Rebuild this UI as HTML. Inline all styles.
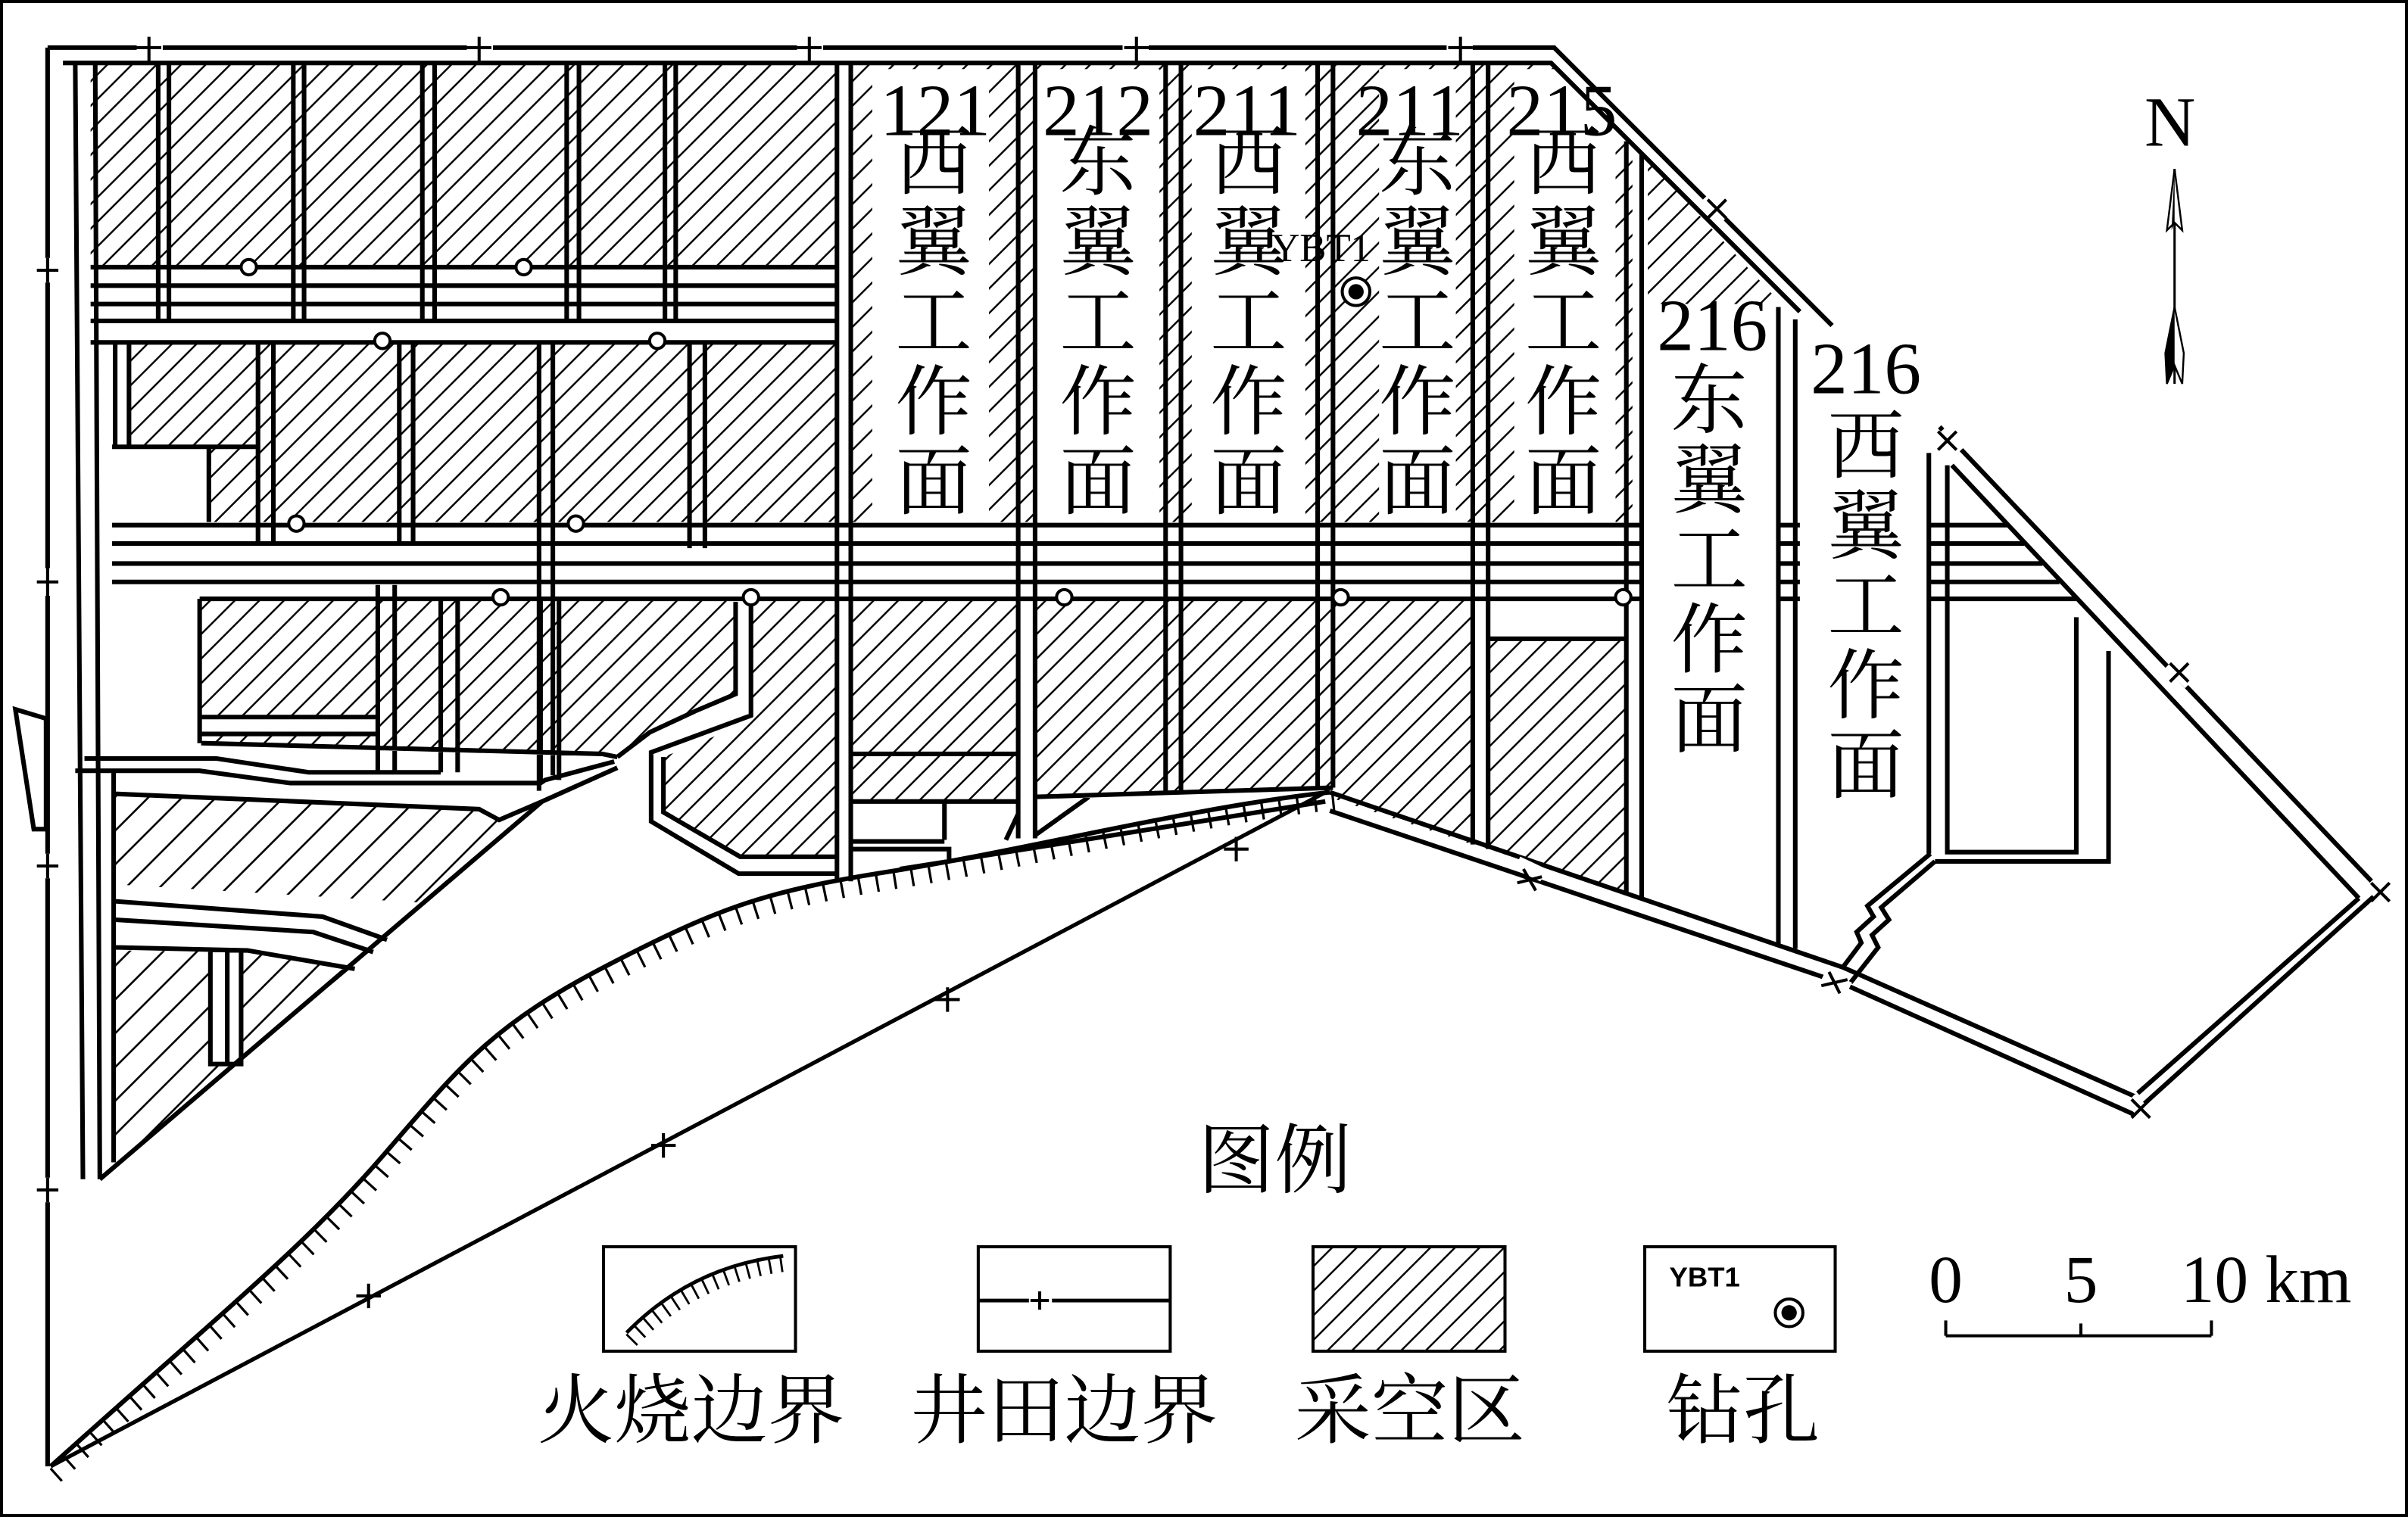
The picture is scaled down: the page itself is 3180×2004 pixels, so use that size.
<!DOCTYPE html>
<html><head><meta charset="utf-8"><style>
html,body{margin:0;padding:0;background:#fff}
svg{display:block}
.s{font-family:"Liberation Serif","Noto Serif CJK SC",serif}
.c{font-family:"Liberation Serif","Noto Serif CJK SC","Noto Sans CJK SC",serif}
</style></head><body>
<svg xmlns="http://www.w3.org/2000/svg" width="3180" height="2004" viewBox="0 0 1568 988" preserveAspectRatio="none">
<defs>
<pattern id="h" patternUnits="userSpaceOnUse" width="16" height="16">
<path d="M-2,18 L18,-2 M-2,2 L2,-2 M14,18 L18,14" stroke="#000" stroke-width="1.2"/>
</pattern>
<pattern id="h2" patternUnits="userSpaceOnUse" width="22" height="22">
<path d="M-2,24 L24,-2 M-2,2 L2,-2 M20,24 L24,20" stroke="#000" stroke-width="1.3"/>
</pattern>
</defs>
<rect x="0" y="0" width="1568" height="988" fill="#fff"/>
<rect x="1" y="1" width="1566" height="986" fill="none" stroke="#000" stroke-width="2"/>

<!-- hatched areas -->
<g fill="url(#h)">
<rect x="59" y="41" width="486" height="133"/>
<rect x="84" y="223" width="461" height="117"/>
<polygon points="553,41 1010,41 1063,94 1063,340 553,340"/>
<polygon points="1073,104 1160,198 1073,198"/>
<polygon points="130,390 479,390 479,452 453,463 423,477 402,493 392,491 131,484"/>
<polygon points="489,390 544,390 544,558 482,558 432,529 432,493 489,470"/>
<rect x="554" y="390" width="109" height="132"/>
<polygon points="674,390 868,390 868,513 674,519"/>
<polygon points="868,390 959,390 959,550 868,520"/>
<polygon points="969,416 1059,416 1059,582 969,553"/>
</g>
<g fill="url(#h2)">
<polygon points="75,517 312,527 325,534 345,528 276,588 75,576"/>
<polygon points="75,619 161,620 228,631 75,759"/>
</g>
<!-- white areas -->
<g fill="#fff">
<rect x="59" y="174" width="486" height="49"/>
<rect x="73" y="340" width="1000" height="50"/>
<rect x="73" y="291" width="63" height="49"/>
<rect x="568" y="45" width="76" height="295"/>
<rect x="675" y="45" width="80" height="295"/>
<rect x="776" y="45" width="74" height="295"/>
<rect x="898" y="45" width="50" height="295"/>
<rect x="986" y="45" width="66" height="295"/>
<rect x="131" y="467" width="115" height="11"/>
<polygon points="674,519 709,519 674,544"/>
<rect x="137" y="619" width="20" height="74"/>
</g>

<!-- interior lines -->
<path fill="none" stroke="#000" stroke-width="3" stroke-linejoin="miter" d="
M49,41 L54,768 M62,41 L65,768 M74,503 V757
M65,768 L353,522
M103,41 V209 M110,41 V209 M191,41 V209 M198,41 V209 M275,41 V209 M283,41 V209 M369,41 V209 M377,41 V209 M433,41 V209 M440,41 V209
M59,174 H545 M59,186 H545 M59,198 H545 M59,209 H545 M59,223 H545
M75,223 V291 M84,223 V291 M168,223 V354 M178,223 V354 M260,223 V354 M269,223 V354 M351,223 V515 M360,223 V505 M449,223 V357 M459,223 V357
M73,291 H168 M136,291 V340
M73,342 H1069 M73,354 H1069 M73,367 H1069 M73,379 H1069 M130,390 H1069
M1158,342 H1172 M1158,354 H1172 M1158,367 H1172 M1158,379 H1172 M1158,390 H1172
M1256,342 H1307 M1256,354 H1318 M1256,367 H1330 M1256,379 H1341 M1256,390 H1352
M545,41 V574 M554,41 V574 M663,41 V546 M674,41 V546 M759,41 V516 M769,41 V515 M858,41 V513 M868,41 V513
M959,41 V550 M969,41 V553 M1059,92 V582 M1069,100 V585 M1158,200 V615 M1169,208 V618 M1256,295 V556 M1268,303 V555
M130,390 V484 M131,467 H246 M131,478 H246 M131,484 L392,491 L402,493
M246,381 V503 M257,381 V503 M287,390 V503 M298,390 V503 M352,390 V510 M364,390 V508
M479,392 V452 L453,463 L423,477 L402,493
M489,390 V466 L424,490 V535 L481,569 H544
M432,493 V529 L482,558 H544
M55,494 L141,494 L201,503 L287,503
M49,502 L130,502 L189,510 L352,510 L355,508 L400,496
M75,517 L312,527 L325,534 L353,522 L402,500
M75,587 L210,597 L252,612 M75,599 L204,607 L243,620 M75,617 L161,619 L231,631
M137,619 V693 H157 V619 M148,619 V693
M554,491 H663 M554,522 H663 M615,522 V547 M554,548 H615 M554,553 H618 V560
M674,519 L868,513 M709,519 L674,544
M863,522 L586,566 M655,547 L663,530
M969,416 H1059
M1268,389 V555 H1352 V402 M1260,561 H1373 V424
M1257,556 L1216,590 L1220,597 L1209,607 L1212,614 L1200,630
M1260,561 L1225,591 L1230,599 L1219,609 L1223,617 L1205,640
M10,462 L30,468 L30,540 L22,540 Z
"/>

<!-- circles -->
<g fill="#fff" stroke="#000" stroke-width="2">
<circle cx="162" cy="174" r="5"/><circle cx="341" cy="174" r="5"/>
<circle cx="249" cy="222" r="5"/><circle cx="428" cy="222" r="5"/>
<circle cx="193" cy="341" r="5"/><circle cx="375" cy="341" r="5"/>
<circle cx="326" cy="389" r="5"/><circle cx="489" cy="389" r="5"/><circle cx="693" cy="389" r="5"/><circle cx="873" cy="389" r="5"/><circle cx="1057" cy="389" r="5"/>
</g>

<!-- boundaries -->
<path fill="none" stroke="#000" stroke-width="3" d="
M31,31 V955 M31,31 H1012 L1193,212 M41,41 H1010 L1172,203
M1263,278 L1550,580 M1271,303 L1536,585
M1550,580 L1395,720 M1536,585 L1392,712
M866,516 L1200,630 L1390,714 M866,528 L1201,641 L1390,726
"/>
<g stroke="#fff" stroke-width="9">
<path d="M89,31 H106 M304,31 H321 M519,31 H536 M731,31 H748 M942,31 H959 M31,168 V184 M31,370 V388 M31,556 V572 M31,767 V783
M1111,128 L1124,142 M1264,281 L1276,294 M1413,432 L1426,445 M1543,575 L1556,588 M1387,716 L1400,728 M988,562 L1005,570 M1187,636 L1204,644"/>
</g>
<g stroke="#000" stroke-width="2">
<path d="M97,24 V40 M89,31 H105 M312,24 V40 M304,31 H320 M527,24 V40 M519,31 H535 M740,24 V40 M732,31 H748 M951,24 V40 M943,31 H959
M31,168 V184 M24,176 H38 M31,370 V388 M24,379 H38 M31,556 V572 M24,564 H38 M31,767 V783 M24,775 H38
M1112,130 L1124,142 M1124,130 L1112,142 M1262,281 L1274,293 M1274,281 L1262,293 M1413,432 L1425,444 M1425,432 L1413,444
M1544,575 L1556,587 M1556,575 L1544,587 M1388,716 L1400,728 M1400,716 L1388,728
M992,566 L1000,580 M988,575 L1004,571 M1191,633 L1198,647 M1186,642 L1203,638"/>
</g>

<!-- straight field boundary -->
<path d="M33,955 L865,515" stroke="#000" stroke-width="2.6"/>
<path d="M240,836 V852 M232,844 H248 M432,738 V754 M424,746 H440 M617,643 V659 M609,651 H625 M805,545 V561 M797,553 H813" stroke="#000" stroke-width="2"/>

<!-- fire boundary -->
<path d="M33,955 C150,850 200,810 250,752 S320,668 395,629 S500,580 583,567 S780,525 866,516" fill="none" stroke="#000" stroke-width="3"/>
<path d="M33,955 C150,850 200,810 250,752 S320,668 395,629 S500,580 583,567 S780,525 866,516" fill="none" stroke="#000" stroke-width="11" stroke-dasharray="1.6 10" transform="translate(3,6)"/>

<!-- labels -->
<g class="s" font-size="48" text-anchor="middle">
<text x="609" y="88">121</text>
<text x="715" y="88">212</text>
<text x="812" y="88">211</text>
<text x="918" y="88">211</text>
<text x="1017" y="88">215</text>
<text x="1115" y="228">216</text>
<text x="1215" y="256">216</text>
</g>
<g class="c" font-size="50" text-anchor="middle">
<text x="608" y="123">西</text><text x="608" y="175">翼</text><text x="608" y="227">工</text><text x="608" y="279">作</text><text x="608" y="331">面</text>
<text x="715" y="123">东</text><text x="715" y="175">翼</text><text x="715" y="227">工</text><text x="715" y="279">作</text><text x="715" y="331">面</text>
<text x="813" y="123">西</text><text x="813" y="175">翼</text><text x="813" y="227">工</text><text x="813" y="279">作</text><text x="813" y="331">面</text>
<text x="923" y="123">东</text><text x="923" y="175">翼</text><text x="923" y="227">工</text><text x="923" y="279">作</text><text x="923" y="331">面</text>
<text x="1018" y="123">西</text><text x="1018" y="175">翼</text><text x="1018" y="227">工</text><text x="1018" y="279">作</text><text x="1018" y="331">面</text>
<text x="1113" y="278">东</text><text x="1113" y="330">翼</text><text x="1113" y="382">工</text><text x="1113" y="434">作</text><text x="1113" y="486">面</text>
<text x="1215" y="308">西</text><text x="1215" y="360">翼</text><text x="1215" y="412">工</text><text x="1215" y="464">作</text><text x="1215" y="516">面</text>
</g>
<text x="860" y="170" class="s" font-size="26" text-anchor="middle">YBT1</text>
<circle cx="883" cy="190" r="9" fill="#fff" stroke="#000" stroke-width="2"/>
<circle cx="883" cy="190" r="5" fill="#000"/>

<!-- north arrow -->
<text x="1413" y="95" class="s" font-size="46" text-anchor="middle">N</text>
<path d="M1416,110 V250" stroke="#000" stroke-width="1.5"/>
<path d="M1416,110 L1411,150 L1416,145 L1421,150 Z" fill="#fff" stroke="#000" stroke-width="1.2"/>
<path d="M1416,110 L1414,150 L1416,145 Z" fill="#000"/>
<path d="M1416,200 L1410,230 L1411,250 L1416,238 L1421,250 L1422,230 Z" fill="#fff" stroke="#000" stroke-width="1.2"/>
<path d="M1416,200 L1410,230 L1411,250 L1416,238 Z" fill="#000"/>

<!-- legend -->
<text x="830" y="773" class="c" font-size="50" text-anchor="middle">图例</text>
<g fill="none" stroke="#000" stroke-width="2">
<rect x="393" y="812" width="125" height="68"/>
<rect x="637" y="812" width="125" height="68"/>
<rect x="855" y="812" width="125" height="68" fill="url(#h)"/>
<rect x="1071" y="812" width="124" height="68"/>
</g>
<path d="M408,868 Q450,825 510,818" fill="none" stroke="#000" stroke-width="2.4"/>
<path d="M408,868 Q450,825 510,818" fill="none" stroke="#000" stroke-width="10" stroke-dasharray="1.4 6" transform="translate(3,5)"/>
<path d="M637,847 H762" stroke="#000" stroke-width="2.4"/>
<path d="M670,847 H685" stroke="#fff" stroke-width="5"/>
<path d="M677,841 V853 M671,847 H683" stroke="#000" stroke-width="2"/>
<text x="1110" y="838" font-family="Liberation Sans,sans-serif" font-weight="bold" font-size="18" text-anchor="middle">YBT1</text>
<circle cx="1165" cy="855" r="9" fill="#fff" stroke="#000" stroke-width="2"/>
<circle cx="1165" cy="855" r="5" fill="#000"/>
<g class="c" font-size="50" text-anchor="middle">
<text x="450" y="936">火烧边界</text>
<text x="693" y="936">井田边界</text>
<text x="918" y="936">采空区</text>
<text x="1135" y="936">钻孔</text>
</g>

<!-- scale -->
<g class="s" font-size="44">
<text x="1267" y="848" text-anchor="middle">0</text>
<text x="1355" y="848" text-anchor="middle">5</text>
<text x="1420" y="848">10 km</text>
</g>
<path d="M1267,870 H1440 M1267,870 V860 M1355,870 V862 M1440,870 V860" stroke="#000" stroke-width="2"/>
</svg>
</body></html>
